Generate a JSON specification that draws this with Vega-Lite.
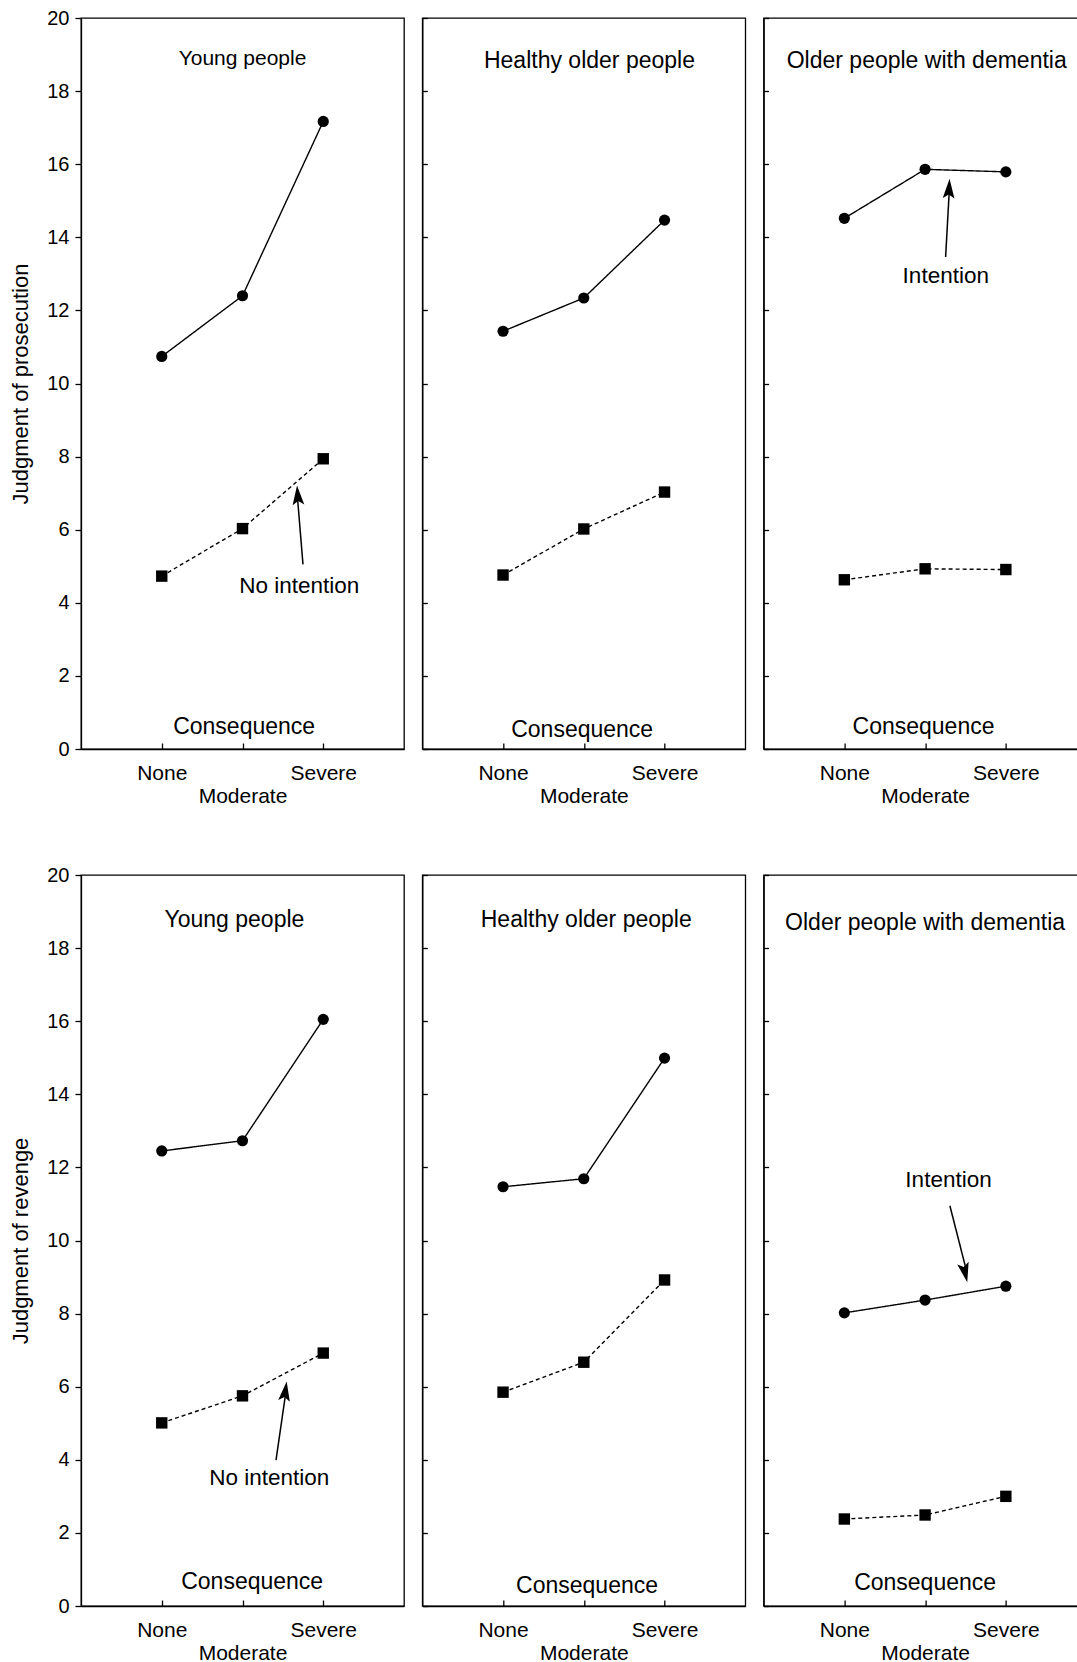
{
  "$schema": "https://vega.github.io/schema/vega-lite/v6.json",
  "background": "white",
  "padding": {"left": 9, "top": 7, "right": 0, "bottom": 0},
  "config": {
    "font": "Liberation Sans",
    "view": {"stroke": "black", "strokeWidth": 1.3},
    "axis": {"grid": false, "domainColor": "black", "domainWidth": 1.3, "tickColor": "black", "tickWidth": 1.3, "labelColor": "black", "titleColor": "black", "labelFont": "Liberation Sans", "titleFont": "Liberation Sans"},
    "axisX": {"tickSize": -6, "labelFontSize": 21, "labelPadding": 19, "labelBaseline": "top", "labelLineHeight": 23, "labelExpr": "datum.value == 1 ? 'None' : datum.value == 2 ? ['', 'Moderate'] : 'Severe'", "title": null},
    "axisY": {"labelFontSize": 20, "titleFontSize": 22, "titleFontWeight": "normal"},
    "text": {"color": "black", "font": "Liberation Sans"}
  },
  "datasets": {
    "judgments": [
      {"measure": "prosecution", "group": "Young people", "intention": "Intention", "consequence": "None", "level": 1, "value": 10.74},
      {"measure": "prosecution", "group": "Young people", "intention": "Intention", "consequence": "Moderate", "level": 2, "value": 12.40},
      {"measure": "prosecution", "group": "Young people", "intention": "Intention", "consequence": "Severe", "level": 3, "value": 17.17},
      {"measure": "prosecution", "group": "Young people", "intention": "No intention", "consequence": "None", "level": 1, "value": 4.73},
      {"measure": "prosecution", "group": "Young people", "intention": "No intention", "consequence": "Moderate", "level": 2, "value": 6.03},
      {"measure": "prosecution", "group": "Young people", "intention": "No intention", "consequence": "Severe", "level": 3, "value": 7.94},
      {"measure": "prosecution", "group": "Healthy older people", "intention": "Intention", "consequence": "None", "level": 1, "value": 11.43},
      {"measure": "prosecution", "group": "Healthy older people", "intention": "Intention", "consequence": "Moderate", "level": 2, "value": 12.34},
      {"measure": "prosecution", "group": "Healthy older people", "intention": "Intention", "consequence": "Severe", "level": 3, "value": 14.47},
      {"measure": "prosecution", "group": "Healthy older people", "intention": "No intention", "consequence": "None", "level": 1, "value": 4.76},
      {"measure": "prosecution", "group": "Healthy older people", "intention": "No intention", "consequence": "Moderate", "level": 2, "value": 6.02},
      {"measure": "prosecution", "group": "Healthy older people", "intention": "No intention", "consequence": "Severe", "level": 3, "value": 7.03},
      {"measure": "prosecution", "group": "Older people with dementia", "intention": "Intention", "consequence": "None", "level": 1, "value": 14.52},
      {"measure": "prosecution", "group": "Older people with dementia", "intention": "Intention", "consequence": "Moderate", "level": 2, "value": 15.86},
      {"measure": "prosecution", "group": "Older people with dementia", "intention": "Intention", "consequence": "Severe", "level": 3, "value": 15.79},
      {"measure": "prosecution", "group": "Older people with dementia", "intention": "No intention", "consequence": "None", "level": 1, "value": 4.63},
      {"measure": "prosecution", "group": "Older people with dementia", "intention": "No intention", "consequence": "Moderate", "level": 2, "value": 4.93},
      {"measure": "prosecution", "group": "Older people with dementia", "intention": "No intention", "consequence": "Severe", "level": 3, "value": 4.91},
      {"measure": "revenge", "group": "Young people", "intention": "Intention", "consequence": "None", "level": 1, "value": 12.45},
      {"measure": "revenge", "group": "Young people", "intention": "Intention", "consequence": "Moderate", "level": 2, "value": 12.73},
      {"measure": "revenge", "group": "Young people", "intention": "Intention", "consequence": "Severe", "level": 3, "value": 16.05},
      {"measure": "revenge", "group": "Young people", "intention": "No intention", "consequence": "None", "level": 1, "value": 5.01},
      {"measure": "revenge", "group": "Young people", "intention": "No intention", "consequence": "Moderate", "level": 2, "value": 5.75},
      {"measure": "revenge", "group": "Young people", "intention": "No intention", "consequence": "Severe", "level": 3, "value": 6.92},
      {"measure": "revenge", "group": "Healthy older people", "intention": "Intention", "consequence": "None", "level": 1, "value": 11.47},
      {"measure": "revenge", "group": "Healthy older people", "intention": "Intention", "consequence": "Moderate", "level": 2, "value": 11.69},
      {"measure": "revenge", "group": "Healthy older people", "intention": "Intention", "consequence": "Severe", "level": 3, "value": 14.99},
      {"measure": "revenge", "group": "Healthy older people", "intention": "No intention", "consequence": "None", "level": 1, "value": 5.85},
      {"measure": "revenge", "group": "Healthy older people", "intention": "No intention", "consequence": "Moderate", "level": 2, "value": 6.67},
      {"measure": "revenge", "group": "Healthy older people", "intention": "No intention", "consequence": "Severe", "level": 3, "value": 8.92},
      {"measure": "revenge", "group": "Older people with dementia", "intention": "Intention", "consequence": "None", "level": 1, "value": 8.02},
      {"measure": "revenge", "group": "Older people with dementia", "intention": "Intention", "consequence": "Moderate", "level": 2, "value": 8.37},
      {"measure": "revenge", "group": "Older people with dementia", "intention": "Intention", "consequence": "Severe", "level": 3, "value": 8.75},
      {"measure": "revenge", "group": "Older people with dementia", "intention": "No intention", "consequence": "None", "level": 1, "value": 2.38},
      {"measure": "revenge", "group": "Older people with dementia", "intention": "No intention", "consequence": "Moderate", "level": 2, "value": 2.49},
      {"measure": "revenge", "group": "Older people with dementia", "intention": "No intention", "consequence": "Severe", "level": 3, "value": 3.00}
    ]
  },
  "spacing": 57,
  "vconcat": [
    {
      "spacing": 18.3,
      "bounds": "flush",
      "resolve": {"scale": {"x": "independent", "y": "independent"}},
      "hconcat": [
        {
          "width": 323, "height": 731,
          "layer": [
            {"data": {"name": "judgments"}, "transform": [{"filter": "datum.measure === 'prosecution' && datum.group === 'Young people'"}],
             "mark": {"type": "line", "color": "black", "strokeWidth": 1.4},
             "encoding": {
               "x": {"field": "level", "type": "quantitative", "scale": {"domain": [0, 4], "nice": false}, "axis": {"values": [1, 2, 3]}},
               "y": {"field": "value", "type": "quantitative", "scale": {"domain": [0, 20], "nice": false}, "axis": {"values": [0, 2, 4, 6, 8, 10, 12, 14, 16, 18, 20], "title": "Judgment of prosecution", "tickSize": 6, "labelPadding": 6, "titlePadding": 14}},
               "detail": {"field": "intention"},
               "strokeDash": {"field": "intention", "type": "nominal", "scale": {"domain": ["Intention", "No intention"], "range": [[1, 0], [4, 3]]}, "legend": null}}},
            {"data": {"name": "judgments"}, "transform": [{"filter": "datum.measure === 'prosecution' && datum.group === 'Young people'"}],
             "mark": {"type": "point", "filled": true, "color": "black", "opacity": 1},
             "encoding": {
               "x": {"field": "level", "type": "quantitative"},
               "y": {"field": "value", "type": "quantitative"},
               "shape": {"field": "intention", "type": "nominal", "scale": {"domain": ["Intention", "No intention"], "range": ["circle", "square"]}, "legend": null},
               "size": {"field": "intention", "type": "nominal", "scale": {"domain": ["Intention", "No intention"], "range": [125, 130]}, "legend": null}}},
            {"data": {"values": [{}]}, "mark": {"type": "text", "fontSize": 21, "baseline": "middle"},
             "encoding": {"x": {"datum": 2.0}, "y": {"datum": 18.89}, "text": {"value": "Young people"}}},
            {"data": {"values": [{}]}, "mark": {"type": "text", "fontSize": 23, "baseline": "middle"},
             "encoding": {"x": {"datum": 2.02}, "y": {"datum": 0.6}, "text": {"value": "Consequence"}}},
            {"data": {"values": [{}]}, "mark": {"type": "rule", "color": "black", "strokeWidth": 1.5},
             "encoding": {"x": {"datum": 2.749}, "y": {"datum": 5.05}, "x2": {"datum": 2.68}, "y2": {"datum": 6.9}}},
            {"data": {"values": [{}]}, "mark": {"type": "point", "shape": "M0,0 L0.6,2 L0,1.6 L-0.6,2 Z", "filled": true, "color": "black", "opacity": 1, "size": 380, "angle": -4.3},
             "encoding": {"x": {"datum": 2.675}, "y": {"datum": 7.21}}},
            {"data": {"values": [{}]}, "mark": {"type": "text", "fontSize": 22.5, "baseline": "middle"},
             "encoding": {"x": {"datum": 2.703}, "y": {"datum": 4.45}, "text": {"value": "No intention"}}}
          ]
        },
        {
          "width": 323, "height": 731,
          "layer": [
            {"data": {"name": "judgments"}, "transform": [{"filter": "datum.measure === 'prosecution' && datum.group === 'Healthy older people'"}],
             "mark": {"type": "line", "color": "black", "strokeWidth": 1.4},
             "encoding": {
               "x": {"field": "level", "type": "quantitative", "scale": {"domain": [0, 4], "nice": false}, "axis": {"values": [1, 2, 3]}},
               "y": {"field": "value", "type": "quantitative", "scale": {"domain": [0, 20], "nice": false}, "axis": {"values": [0, 2, 4, 6, 8, 10, 12, 14, 16, 18, 20], "title": null, "labels": false, "tickSize": -5}},
               "detail": {"field": "intention"},
               "strokeDash": {"field": "intention", "type": "nominal", "scale": {"domain": ["Intention", "No intention"], "range": [[1, 0], [4, 3]]}, "legend": null}}},
            {"data": {"name": "judgments"}, "transform": [{"filter": "datum.measure === 'prosecution' && datum.group === 'Healthy older people'"}],
             "mark": {"type": "point", "filled": true, "color": "black", "opacity": 1},
             "encoding": {
               "x": {"field": "level", "type": "quantitative"},
               "y": {"field": "value", "type": "quantitative"},
               "shape": {"field": "intention", "type": "nominal", "scale": {"domain": ["Intention", "No intention"], "range": ["circle", "square"]}, "legend": null},
               "size": {"field": "intention", "type": "nominal", "scale": {"domain": ["Intention", "No intention"], "range": [125, 130]}, "legend": null}}},
            {"data": {"values": [{}]}, "mark": {"type": "text", "fontSize": 23, "baseline": "middle"},
             "encoding": {"x": {"datum": 2.07}, "y": {"datum": 18.83}, "text": {"value": "Healthy older people"}}},
            {"data": {"values": [{}]}, "mark": {"type": "text", "fontSize": 23, "baseline": "middle"},
             "encoding": {"x": {"datum": 1.98}, "y": {"datum": 0.53}, "text": {"value": "Consequence"}}}
          ]
        },
        {
          "width": 323, "height": 731,
          "layer": [
            {"data": {"name": "judgments"}, "transform": [{"filter": "datum.measure === 'prosecution' && datum.group === 'Older people with dementia'"}],
             "mark": {"type": "line", "color": "black", "strokeWidth": 1.4},
             "encoding": {
               "x": {"field": "level", "type": "quantitative", "scale": {"domain": [0, 4], "nice": false}, "axis": {"values": [1, 2, 3]}},
               "y": {"field": "value", "type": "quantitative", "scale": {"domain": [0, 20], "nice": false}, "axis": {"values": [0, 2, 4, 6, 8, 10, 12, 14, 16, 18, 20], "title": null, "labels": false, "tickSize": -5}},
               "detail": {"field": "intention"},
               "strokeDash": {"field": "intention", "type": "nominal", "scale": {"domain": ["Intention", "No intention"], "range": [[1, 0], [4, 3]]}, "legend": null}}},
            {"data": {"name": "judgments"}, "transform": [{"filter": "datum.measure === 'prosecution' && datum.group === 'Older people with dementia'"}],
             "mark": {"type": "point", "filled": true, "color": "black", "opacity": 1},
             "encoding": {
               "x": {"field": "level", "type": "quantitative"},
               "y": {"field": "value", "type": "quantitative"},
               "shape": {"field": "intention", "type": "nominal", "scale": {"domain": ["Intention", "No intention"], "range": ["circle", "square"]}, "legend": null},
               "size": {"field": "intention", "type": "nominal", "scale": {"domain": ["Intention", "No intention"], "range": [125, 130]}, "legend": null}}},
            {"data": {"values": [{}]}, "mark": {"type": "text", "fontSize": 23, "baseline": "middle"},
             "encoding": {"x": {"datum": 2.02}, "y": {"datum": 18.83}, "text": {"value": "Older people with dementia"}}},
            {"data": {"values": [{}]}, "mark": {"type": "text", "fontSize": 23, "baseline": "middle"},
             "encoding": {"x": {"datum": 1.98}, "y": {"datum": 0.6}, "text": {"value": "Consequence"}}},
            {"data": {"values": [{}]}, "mark": {"type": "rule", "color": "black", "strokeWidth": 1.5},
             "encoding": {"x": {"datum": 2.254}, "y": {"datum": 13.46}, "x2": {"datum": 2.3}, "y2": {"datum": 15.3}}},
            {"data": {"values": [{}]}, "mark": {"type": "point", "shape": "M0,0 L0.6,2 L0,1.6 L-0.6,2 Z", "filled": true, "color": "black", "opacity": 1, "size": 380, "angle": 2.9},
             "encoding": {"x": {"datum": 2.303}, "y": {"datum": 15.6}}},
            {"data": {"values": [{}]}, "mark": {"type": "text", "fontSize": 22.5, "baseline": "middle"},
             "encoding": {"x": {"datum": 2.256}, "y": {"datum": 12.93}, "text": {"value": "Intention"}}}
          ]
        }
      ]
    },
    {
      "spacing": 18.3,
      "bounds": "flush",
      "resolve": {"scale": {"x": "independent", "y": "independent"}},
      "hconcat": [
        {
          "width": 323, "height": 731,
          "layer": [
            {"data": {"name": "judgments"}, "transform": [{"filter": "datum.measure === 'revenge' && datum.group === 'Young people'"}],
             "mark": {"type": "line", "color": "black", "strokeWidth": 1.4},
             "encoding": {
               "x": {"field": "level", "type": "quantitative", "scale": {"domain": [0, 4], "nice": false}, "axis": {"values": [1, 2, 3]}},
               "y": {"field": "value", "type": "quantitative", "scale": {"domain": [0, 20], "nice": false}, "axis": {"values": [0, 2, 4, 6, 8, 10, 12, 14, 16, 18, 20], "title": "Judgment of revenge", "tickSize": 6, "labelPadding": 6, "titlePadding": 14}},
               "detail": {"field": "intention"},
               "strokeDash": {"field": "intention", "type": "nominal", "scale": {"domain": ["Intention", "No intention"], "range": [[1, 0], [4, 3]]}, "legend": null}}},
            {"data": {"name": "judgments"}, "transform": [{"filter": "datum.measure === 'revenge' && datum.group === 'Young people'"}],
             "mark": {"type": "point", "filled": true, "color": "black", "opacity": 1},
             "encoding": {
               "x": {"field": "level", "type": "quantitative"},
               "y": {"field": "value", "type": "quantitative"},
               "shape": {"field": "intention", "type": "nominal", "scale": {"domain": ["Intention", "No intention"], "range": ["circle", "square"]}, "legend": null},
               "size": {"field": "intention", "type": "nominal", "scale": {"domain": ["Intention", "No intention"], "range": [125, 130]}, "legend": null}}},
            {"data": {"values": [{}]}, "mark": {"type": "text", "fontSize": 23, "baseline": "middle"},
             "encoding": {"x": {"datum": 1.9}, "y": {"datum": 18.78}, "text": {"value": "Young people"}}},
            {"data": {"values": [{}]}, "mark": {"type": "text", "fontSize": 23, "baseline": "middle"},
             "encoding": {"x": {"datum": 2.12}, "y": {"datum": 0.65}, "text": {"value": "Consequence"}}},
            {"data": {"values": [{}]}, "mark": {"type": "rule", "color": "black", "strokeWidth": 1.5},
             "encoding": {"x": {"datum": 2.415}, "y": {"datum": 3.99}, "x2": {"datum": 2.54}, "y2": {"datum": 5.9}}},
            {"data": {"values": [{}]}, "mark": {"type": "point", "shape": "M0,0 L0.6,2 L0,1.6 L-0.6,2 Z", "filled": true, "color": "black", "opacity": 1, "size": 380, "angle": 7.8},
             "encoding": {"x": {"datum": 2.547}, "y": {"datum": 6.14}}},
            {"data": {"values": [{}]}, "mark": {"type": "text", "fontSize": 22.5, "baseline": "middle"},
             "encoding": {"x": {"datum": 2.332}, "y": {"datum": 3.49}, "text": {"value": "No intention"}}}
          ]
        },
        {
          "width": 323, "height": 731,
          "layer": [
            {"data": {"name": "judgments"}, "transform": [{"filter": "datum.measure === 'revenge' && datum.group === 'Healthy older people'"}],
             "mark": {"type": "line", "color": "black", "strokeWidth": 1.4},
             "encoding": {
               "x": {"field": "level", "type": "quantitative", "scale": {"domain": [0, 4], "nice": false}, "axis": {"values": [1, 2, 3]}},
               "y": {"field": "value", "type": "quantitative", "scale": {"domain": [0, 20], "nice": false}, "axis": {"values": [0, 2, 4, 6, 8, 10, 12, 14, 16, 18, 20], "title": null, "labels": false, "tickSize": -5}},
               "detail": {"field": "intention"},
               "strokeDash": {"field": "intention", "type": "nominal", "scale": {"domain": ["Intention", "No intention"], "range": [[1, 0], [4, 3]]}, "legend": null}}},
            {"data": {"name": "judgments"}, "transform": [{"filter": "datum.measure === 'revenge' && datum.group === 'Healthy older people'"}],
             "mark": {"type": "point", "filled": true, "color": "black", "opacity": 1},
             "encoding": {
               "x": {"field": "level", "type": "quantitative"},
               "y": {"field": "value", "type": "quantitative"},
               "shape": {"field": "intention", "type": "nominal", "scale": {"domain": ["Intention", "No intention"], "range": ["circle", "square"]}, "legend": null},
               "size": {"field": "intention", "type": "nominal", "scale": {"domain": ["Intention", "No intention"], "range": [125, 130]}, "legend": null}}},
            {"data": {"values": [{}]}, "mark": {"type": "text", "fontSize": 23, "baseline": "middle"},
             "encoding": {"x": {"datum": 2.03}, "y": {"datum": 18.78}, "text": {"value": "Healthy older people"}}},
            {"data": {"values": [{}]}, "mark": {"type": "text", "fontSize": 23, "baseline": "middle"},
             "encoding": {"x": {"datum": 2.04}, "y": {"datum": 0.56}, "text": {"value": "Consequence"}}}
          ]
        },
        {
          "width": 323, "height": 731,
          "layer": [
            {"data": {"name": "judgments"}, "transform": [{"filter": "datum.measure === 'revenge' && datum.group === 'Older people with dementia'"}],
             "mark": {"type": "line", "color": "black", "strokeWidth": 1.4},
             "encoding": {
               "x": {"field": "level", "type": "quantitative", "scale": {"domain": [0, 4], "nice": false}, "axis": {"values": [1, 2, 3]}},
               "y": {"field": "value", "type": "quantitative", "scale": {"domain": [0, 20], "nice": false}, "axis": {"values": [0, 2, 4, 6, 8, 10, 12, 14, 16, 18, 20], "title": null, "labels": false, "tickSize": -5}},
               "detail": {"field": "intention"},
               "strokeDash": {"field": "intention", "type": "nominal", "scale": {"domain": ["Intention", "No intention"], "range": [[1, 0], [4, 3]]}, "legend": null}}},
            {"data": {"name": "judgments"}, "transform": [{"filter": "datum.measure === 'revenge' && datum.group === 'Older people with dementia'"}],
             "mark": {"type": "point", "filled": true, "color": "black", "opacity": 1},
             "encoding": {
               "x": {"field": "level", "type": "quantitative"},
               "y": {"field": "value", "type": "quantitative"},
               "shape": {"field": "intention", "type": "nominal", "scale": {"domain": ["Intention", "No intention"], "range": ["circle", "square"]}, "legend": null},
               "size": {"field": "intention", "type": "nominal", "scale": {"domain": ["Intention", "No intention"], "range": [125, 130]}, "legend": null}}},
            {"data": {"values": [{}]}, "mark": {"type": "text", "fontSize": 23, "baseline": "middle"},
             "encoding": {"x": {"datum": 2.0}, "y": {"datum": 18.7}, "text": {"value": "Older people with dementia"}}},
            {"data": {"values": [{}]}, "mark": {"type": "text", "fontSize": 23, "baseline": "middle"},
             "encoding": {"x": {"datum": 2.0}, "y": {"datum": 0.62}, "text": {"value": "Consequence"}}},
            {"data": {"values": [{}]}, "mark": {"type": "rule", "color": "black", "strokeWidth": 1.5},
             "encoding": {"x": {"datum": 2.307}, "y": {"datum": 10.95}, "x2": {"datum": 2.515}, "y2": {"datum": 9.15}}},
            {"data": {"values": [{}]}, "mark": {"type": "point", "shape": "M0,0 L0.6,2 L0,1.6 L-0.6,2 Z", "filled": true, "color": "black", "opacity": 1, "size": 380, "angle": 167.2},
             "encoding": {"x": {"datum": 2.522}, "y": {"datum": 8.86}}},
            {"data": {"values": [{}]}, "mark": {"type": "text", "fontSize": 22.5, "baseline": "middle"},
             "encoding": {"x": {"datum": 2.29}, "y": {"datum": 11.66}, "text": {"value": "Intention"}}}
          ]
        }
      ]
    }
  ]
}
